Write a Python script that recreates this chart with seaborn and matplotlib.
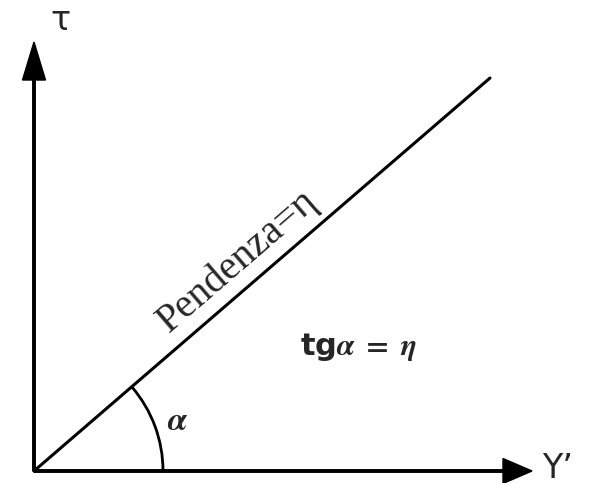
import numpy as np
import matplotlib.pyplot as plt
import matplotlib.patches as mpatches
import seaborn as sns

# diagram in pixel-like units (origin bottom-left)
origin = (34, 12)
x_axis_end = 532
y_axis_end = 441
slope_x = [34, 490]
slope_y = [12, 405]
arc_radius = 129

sns.set_theme(style="white")
plt.rcParams['font.family'] = ['DejaVu Sans']
plt.rcParams['mathtext.fontset'] = 'stix'

fig = plt.figure(figsize=(5.9, 4.83), dpi=100)
ax = fig.add_axes([0, 0, 1, 1])
ax.set_xlim(0, 590)
ax.set_ylim(0, 483)
ax.axis('off')

# axes arrows
ax.arrow(origin[0], origin[1], x_axis_end - origin[0], 0, width=2.5, head_width=25,
         head_length=29, length_includes_head=True, color='black')
ax.arrow(origin[0], origin[1], 0, y_axis_end - origin[1], width=2.5, head_width=23,
         head_length=38, length_includes_head=True, color='black')

# slope line
sns.lineplot(x=slope_x, y=slope_y, ax=ax, color='black', linewidth=2.2)

angle = np.degrees(np.arctan2(slope_y[1] - slope_y[0], slope_x[1] - slope_x[0]))
ax.add_patch(mpatches.Arc(origin, 2 * arc_radius, 2 * arc_radius, theta1=0, theta2=angle,
                          color='black', linewidth=2))

ax.text(60, 463, 'τ', fontsize=24, ha='center', va='center')
ax.text(558, 15, 'Υ’', fontsize=24, ha='center', va='center')
ax.text(178, 63, r'$\boldsymbol{\alpha}$', fontsize=24, ha='center', va='center')
ax.text(238, 222, 'Pendenza=η', fontsize=29, family=['Liberation Serif', 'DejaVu Serif'],
        rotation=angle, rotation_mode='anchor', ha='center', va='center')
ax.text(358, 136, r'tg$\boldsymbol{\alpha}\ \mathbf{=}\ \boldsymbol{\eta}$', fontsize=22,
        fontweight='bold', ha='center', va='center')

fig.savefig('out.png', dpi=100)
